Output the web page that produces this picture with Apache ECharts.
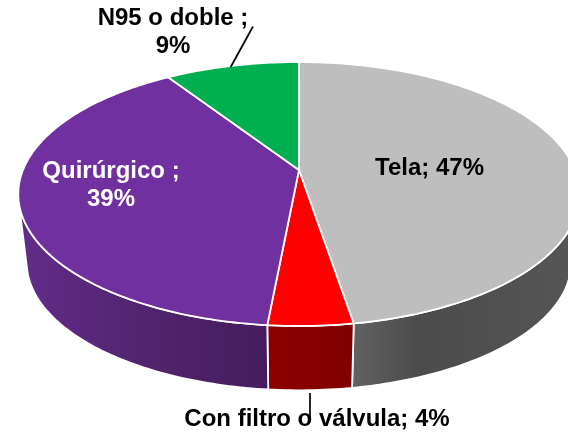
<!DOCTYPE html>
<html>
<head>
<meta charset="utf-8">
<style>html,body{margin:0;padding:0;background:#fff}#c{width:568px;height:432px}</style>
<script src="https://cdn.jsdelivr.net/npm/echarts@6/dist/echarts.min.js"></script>
</head>
<body>
<div id="c"></div>
<script>
const categories = ['Tela', 'Con filtro o válvula', 'Quirúrgico', 'N95 o doble'];
const values = [47.4, 4.1, 39.3, 9.2];
const percentLabels = ['47%', '4%', '39%', '9%'];
const topColors = ['#BEBEBE', '#FF0000', '#7030A0', '#00B050'];
const sideStops = [
  [[0, '#626262'], [0.3, '#4B4B4B'], [1, '#565656']],
  [[0, '#8E0000'], [1, '#7E0000']],
  [[0, '#622C88'], [0.5, '#52246F'], [1, '#451D5E']],
  [[0, '#006030'], [1, '#006030']]
];

const geo = {cx: 299, cy: 170, A: 276, B: 127.6, k: 0.182, scale: 0.97, bottomCy: 239, step: 1};
const total = values.reduce((a, b) => a + b, 0);
const starts = [];
values.reduce((acc, v, i) => { starts[i] = acc; return acc + v; }, 0);
const toAngle = v => v / total * 2 * Math.PI;

function topPoint(t) {
  const w = 1 + geo.k * Math.cos(t);
  return [geo.cx + geo.A * Math.sin(t) / w, geo.cy - geo.B * Math.cos(t) / w];
}
function bottomPoint(t) {
  const w = 1 + geo.k * Math.cos(t);
  return [geo.cx + geo.scale * geo.A * Math.sin(t) / w, geo.bottomCy - geo.scale * geo.B * Math.cos(t) / w];
}
function arc(fn, a0, a1) {
  const pts = [];
  const n = Math.max(2, Math.ceil(Math.abs(a1 - a0) * 180 / Math.PI / geo.step));
  for (let i = 0; i <= n; i++) pts.push(fn(a0 + (a1 - a0) * i / n));
  return pts;
}
// Angle at which the line joining the two rims is tangent to the top rim (the visible silhouette).
function silhouette(lo, hi) {
  const f = t => {
    const p = topPoint(t), q = bottomPoint(t);
    const p2 = topPoint(t + 1e-3);
    return (q[0] - p[0]) * (p2[1] - p[1]) - (q[1] - p[1]) * (p2[0] - p[0]);
  };
  let a = lo, b = hi, fa = f(a);
  for (let i = 0; i < 50; i++) {
    const m = (a + b) / 2, fm = f(m);
    if (fa * fm <= 0) { b = m; } else { a = m; fa = fm; }
  }
  return (a + b) / 2;
}
const sideStart = silhouette(Math.PI * 0.3, Math.PI * 0.9);
const sideEnd = silhouette(Math.PI * 1.1, Math.PI * 1.7);
const stroke = {stroke: '#fff', lineWidth: 1.8, lineJoin: 'round'};

function renderSide(params, api) {
  const i = params.dataIndex;
  const a0 = Math.max(toAngle(starts[i]), sideStart);
  const a1 = Math.min(toAngle(starts[i] + api.value(0)), sideEnd);
  if (a1 <= a0) return null;
  const pts = arc(topPoint, a0, a1).concat(arc(bottomPoint, a1, a0));
  return {
    type: 'polygon',
    shape: {points: pts},
    style: Object.assign({
      fill: new echarts.graphic.LinearGradient(0, 0, 1, 0,
        sideStops[i].map(s => ({offset: s[0], color: s[1]})))
    }, stroke)
  };
}
function renderTop(params, api) {
  const i = params.dataIndex;
  const a0 = toAngle(starts[i]);
  const a1 = toAngle(starts[i] + api.value(0));
  const pts = [[geo.cx, geo.cy]].concat(arc(topPoint, a0, a1));
  return {
    type: 'polygon',
    shape: {points: pts},
    style: Object.assign({fill: topColors[i]}, stroke)
  };
}

const labelFont = 'bold 24px "Liberation Sans", Arial, sans-serif';
const labelLayouts = [
  {x: 429.5, y: 168, color: '#000', sep: '; '},
  {x: 317, y: 419, color: '#000', sep: '; '},
  {x: 111, y: 185, color: '#fff', sep: ' ;\n'},
  {x: 173, y: 32, color: '#000', sep: ' ;\n'}
];
const leaders = [
  {x1: 253, y1: 26.5, x2: 230.7, y2: 67},
  {x1: 310, y1: 393, x2: 310, y2: 420}
];
function renderLabel(params) {
  const i = params.dataIndex, l = labelLayouts[i];
  return {
    type: 'text',
    x: l.x, y: l.y,
    style: {
      text: categories[i] + l.sep + percentLabels[i],
      font: labelFont, fill: l.color,
      align: 'center', verticalAlign: 'middle', lineHeight: 28
    }
  };
}
function renderLeader(params) {
  const l = leaders[params.dataIndex];
  return {
    type: 'line',
    shape: {x1: l.x1, y1: l.y1, x2: l.x2, y2: l.y2},
    style: {stroke: '#000', lineWidth: 1.7}
  };
}

const chart = echarts.init(document.getElementById('c'), null, {renderer: 'canvas'});
chart.setOption({
  animation: false,
  backgroundColor: '#fff',
  series: [
    {type: 'custom', coordinateSystem: 'none', data: values, renderItem: renderSide, z: 1, silent: true},
    {type: 'custom', coordinateSystem: 'none', data: values, renderItem: renderTop, z: 2, silent: true},
    {type: 'custom', coordinateSystem: 'none', data: leaders.map((_, i) => i), renderItem: renderLeader, z: 3, silent: true},
    {type: 'custom', coordinateSystem: 'none', data: values, renderItem: renderLabel, z: 4, silent: true}
  ]
});
</script>
</body>
</html>
